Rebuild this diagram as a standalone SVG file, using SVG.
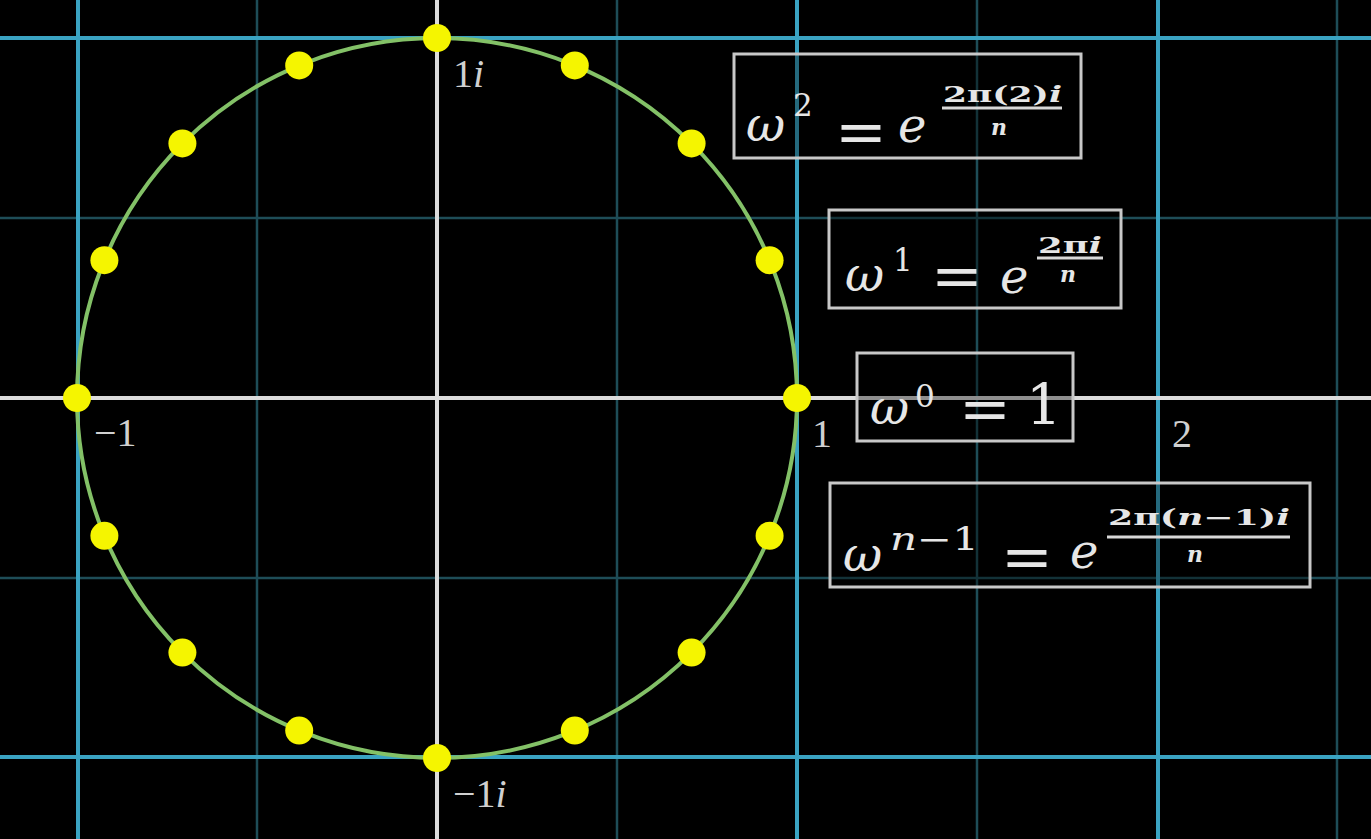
<svg xmlns="http://www.w3.org/2000/svg" width="1371" height="839" viewBox="0 0 1371 839">
<style>
.minor{stroke:#1e4d57;stroke-width:2.5}
.major{stroke:#3aa3c2;stroke-width:4}
.axis{stroke:#dcdcdc;stroke-width:4}
.dot{fill:#f5f500}
.lbl{font-family:"Liberation Serif",serif;font-size:40px;fill:#d0d0d0}
.box{fill:#000;fill-opacity:0.35;stroke:#c8c8c8;stroke-width:3}
.m{font-family:"DejaVu Serif","Liberation Serif",serif;fill:#e6e6e6}
.it{font-style:italic}
.big{font-size:48px}
.eq{font-size:62px}
.sup{font-size:31px}
.frac{font-size:22px;font-weight:bold}
.bar{stroke:#d8d8d8;stroke-width:3}
</style>
<rect width="1371" height="839" fill="#000"/>
<g id="grid">
<line class="minor" x1="257" y1="0" x2="257" y2="839"/>
<line class="minor" x1="617" y1="0" x2="617" y2="839"/>
<line class="minor" x1="977" y1="0" x2="977" y2="839"/>
<line class="minor" x1="1337" y1="0" x2="1337" y2="839"/>
<line class="minor" x1="0" y1="218" x2="1371" y2="218"/>
<line class="minor" x1="0" y1="578" x2="1371" y2="578"/>
<line class="major" x1="78" y1="0" x2="78" y2="839"/>
<line class="major" x1="797" y1="0" x2="797" y2="839"/>
<line class="major" x1="1158" y1="0" x2="1158" y2="839"/>
<line class="major" x1="0" y1="38" x2="1371" y2="38"/>
<line class="major" x1="0" y1="757" x2="1371" y2="757"/>
<line class="axis" x1="0" y1="398" x2="1371" y2="398"/>
<line class="axis" x1="437" y1="0" x2="437" y2="839"/>
</g>
<g id="circle">
<circle cx="437" cy="398" r="360" fill="none" stroke="#83c167" stroke-width="4"/>
</g>
<g id="roots">
<circle class="dot" cx="797" cy="398" r="14"/>
<circle class="dot" cx="769.6" cy="260.2" r="14"/>
<circle class="dot" cx="691.6" cy="143.4" r="14"/>
<circle class="dot" cx="574.8" cy="65.4" r="14"/>
<circle class="dot" cx="437" cy="38" r="14"/>
<circle class="dot" cx="299.2" cy="65.4" r="14"/>
<circle class="dot" cx="182.4" cy="143.4" r="14"/>
<circle class="dot" cx="104.4" cy="260.2" r="14"/>
<circle class="dot" cx="77" cy="398" r="14"/>
<circle class="dot" cx="104.4" cy="535.8" r="14"/>
<circle class="dot" cx="182.4" cy="652.6" r="14"/>
<circle class="dot" cx="299.2" cy="730.6" r="14"/>
<circle class="dot" cx="437" cy="758" r="14"/>
<circle class="dot" cx="574.8" cy="730.6" r="14"/>
<circle class="dot" cx="691.6" cy="652.6" r="14"/>
<circle class="dot" cx="769.6" cy="535.8" r="14"/>
</g>
<g id="labels">
<text class="lbl" x="453" y="87">1<tspan font-style="italic">i</tspan></text>
<text class="lbl" x="94" y="446">−1</text>
<text class="lbl" x="812" y="447">1</text>
<text class="lbl" x="1172" y="447">2</text>
<text class="lbl" x="453" y="807">−1<tspan font-style="italic">i</tspan></text>
</g>
<g id="w2">
<rect class="box" x="734" y="54" width="347" height="104"/>
<text class="m it big" x="746" y="141">ω</text>
<text class="m sup" x="793" y="116">2</text>
<text class="m eq" x="835" y="153">=</text>
<text class="m it big" x="898" y="142">e</text>
<text class="m frac" x="943" y="102" textLength="119" lengthAdjust="spacingAndGlyphs">2π(2)<tspan font-style="italic">i</tspan></text>
<line class="bar" x1="942" y1="108" x2="1062" y2="108"/>
<text class="m frac it" x="991" y="135">n</text>
</g>
<g id="w1">
<rect class="box" x="829" y="210" width="292" height="98"/>
<text class="m it big" x="845" y="291">ω</text>
<text class="m sup" x="893" y="271">1</text>
<text class="m eq" x="931" y="297">=</text>
<text class="m it big" x="1000" y="293">e</text>
<text class="m frac" x="1038" y="253" textLength="64" lengthAdjust="spacingAndGlyphs">2π<tspan font-style="italic">i</tspan></text>
<line class="bar" x1="1037" y1="258" x2="1103" y2="258"/>
<text class="m frac it" x="1060" y="282">n</text>
</g>
<g id="w0">
<rect class="box" x="857" y="353" width="216" height="88"/>
<text class="m it big" x="870" y="424">ω</text>
<text class="m sup" x="915" y="407">0</text>
<text class="m eq" x="959" y="430">=</text>
<text class="m" x="1026" y="424" font-size="56">1</text>
</g>
<g id="wn1">
<rect class="box" x="830" y="483" width="480" height="104"/>
<text class="m it big" x="843" y="571">ω</text>
<text class="m sup" x="890" y="550" textLength="89" lengthAdjust="spacingAndGlyphs"><tspan font-style="italic">n</tspan>−1</text>
<text class="m eq" x="1001" y="578">=</text>
<text class="m it big" x="1070" y="568">e</text>
<text class="m frac" x="1108" y="525" textLength="182" lengthAdjust="spacingAndGlyphs">2π(<tspan font-style="italic">n</tspan>−1)<tspan font-style="italic">i</tspan></text>
<line class="bar" x1="1107" y1="537" x2="1290" y2="537"/>
<text class="m frac it" x="1187" y="562">n</text>
</g>
</svg>
